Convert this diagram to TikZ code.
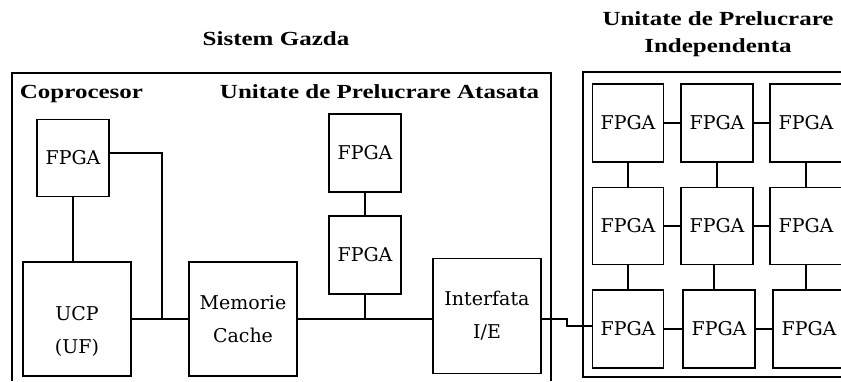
\documentclass[tikz,border=0pt]{standalone}
\usepackage{fontspec}
\setmainfont{DejaVu Serif}
\newfontfamily\titlefont[FakeStretch=1.25]{Liberation Serif}
\begin{document}
\begin{tikzpicture}[x=1pt,y=-1pt,
  every path/.style={line width=1.8pt},
  boxtext/.style={inner sep=0pt, align=center, font=\fontsize{19pt}{33pt}\selectfont},
  box/.style={draw, line width=1.8pt, rectangle, boxtext},
  title/.style={inner sep=0pt, align=center,
    font=\titlefont\bfseries\fontsize{20pt}{27pt}\selectfont}
]
\useasboundingbox (0,0) rectangle (841,381);
% titles
\node[title, anchor=base] (sg) at (276,45) {Sistem Gazda};
\node[title, anchor=base west] (cp) at (19,98) {Coprocesor};
\node[title, anchor=base east] (upa) at (540,98) {Unitate de Prelucrare Atasata};
\node[title] (upi) at (718,34) {Unitate de Prelucrare\\Independenta};
% frames
\draw (12,381) -- (12,73) -- (551,73) -- (551,381);
\draw (841,72) -- (583,72) -- (583,377) -- (841,377);
% host system boxes
\node[box, minimum width=72pt, minimum height=77pt] (cf) at (73,158) {FPGA};
\node[box, minimum width=108pt, minimum height=114pt,
  label={[boxtext, yshift=-12pt]center:UCP\\(UF)}] (ucp) at (77,319) {};
\node[box, minimum width=108pt, minimum height=114pt] (mem) at (243,319) {Memorie\\Cache};
\node[box, minimum width=72pt, minimum height=78pt] (fa1) at (365,153) {FPGA};
\node[box, minimum width=72pt, minimum height=78pt] (fa2) at (365,255) {FPGA};
\node[box, minimum width=108pt, minimum height=115pt] (ie) at (487,316) {Interfata\\I/E};
% grid
\node[box, minimum width=71pt, minimum height=78pt] (g11) at (628,123) {FPGA};
\node[box, minimum width=72pt, minimum height=78pt] (g12) at (717,123) {FPGA};
\node[box, minimum width=72pt, minimum height=78pt] (g13) at (806,123) {FPGA};
\node[box, minimum width=71pt, minimum height=77pt] (g21) at (628,226) {FPGA};
\node[box, minimum width=72pt, minimum height=77pt] (g22) at (717,226) {FPGA};
\node[box, minimum width=72pt, minimum height=77pt] (g23) at (806,226) {FPGA};
\node[box, minimum width=71pt, minimum height=78pt] (g31) at (628,329) {FPGA};
\node[box, minimum width=72pt, minimum height=78pt] (g32) at (719,329) {FPGA};
\node[box, minimum width=72pt, minimum height=78pt] (g33) at (809,329) {FPGA};
% connectors host
\coordinate (j1) at (162,319);
\coordinate (k) at (567,0);
\draw (cf.south) -- (cf.south |- ucp.north);
\draw ([yshift=5pt]cf.east) -| (j1);
\draw (ucp.east) -- (mem.west);
\draw (mem.east) -- (mem.east -| ie.west);
\draw (fa1.south) -- (fa2.north);
\draw (fa2.south) -- (fa2.south |- mem.east);
\draw (ie.east |- mem.east) -- (k |- mem.east) |- ([yshift=3pt]g31.west);
% grid connectors
\draw (g11) -- (g12); \draw (g12) -- (g13);
\draw (g21) -- (g22); \draw (g22) -- (g23);
\draw (g31) -- (g32); \draw (g32) -- (g33);
\draw (g11.south) -- (g21.north);
\draw (g12.south) -- (g22.north);
\draw (g13.south) -- (g23.north);
\draw (g21.south) -- (g21.south |- g31.north);
\draw ([xshift=-3pt]g22.south) -- ([xshift=-3pt]g22.south |- g32.north);
\draw (g23.south) -- (g23.south |- g33.north);
\end{tikzpicture}
\end{document}
